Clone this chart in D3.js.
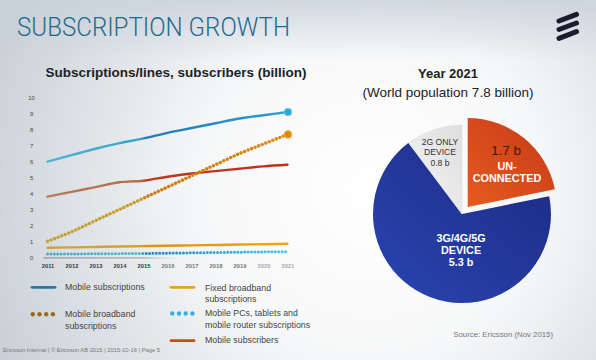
<!DOCTYPE html>
<html><head><meta charset="utf-8">
<script src="https://cdn.jsdelivr.net/npm/d3@7"></script>
<style>html,body{margin:0;padding:0;background:#fff;}svg{display:block;}</style>
</head><body>
<svg id="c" width="596" height="360"></svg>
<script>
// ---- data ----
const years = [2011,2012,2013,2014,2015,2016,2017,2018,2019,2020,2021];
const yTicks = [0,1,2,3,4,5,6,7,8,9,10];
const mobileSubs = [6.0,6.4,6.8,7.15,7.45,7.8,8.1,8.4,8.7,8.9,9.1];
const mobileBroadband = [1.0,1.6,2.3,3.0,3.7,4.4,5.1,5.8,6.5,7.1,7.7];
const mobileSubscribers = [3.8,4.1,4.4,4.7,4.8,5.05,5.25,5.4,5.55,5.7,5.8];
const fixedBroadband = [0.6,0.62,0.65,0.68,0.7,0.72,0.75,0.77,0.8,0.82,0.85];
const mobilePCs = [0.2,0.21,0.22,0.23,0.24,0.26,0.28,0.3,0.32,0.34,0.35];
const pieLabels = ["UN-CONNECTED","3G/4G/5G DEVICE","2G ONLY DEVICE"];
const pieValues = [1.7,5.3,0.8];

const svg = d3.select("#c");
const defs = svg.append("defs");
const font = "'Liberation Sans', Arial, sans-serif";

// background
const bg = defs.append("radialGradient").attr("id","bg").attr("gradientUnits","userSpaceOnUse")
  .attr("cx",370).attr("cy",190).attr("r",430);
bg.append("stop").attr("offset","0").attr("stop-color","#ffffff");
bg.append("stop").attr("offset","0.4").attr("stop-color","#f6f7f8");
bg.append("stop").attr("offset","1").attr("stop-color","#c3cbd2");
svg.append("rect").attr("width",596).attr("height",360).attr("fill","url(#bg)");
const tb = defs.append("linearGradient").attr("id","tb").attr("x1",0).attr("y1",0).attr("x2",0).attr("y2",1);
tb.append("stop").attr("offset","0").attr("stop-color","#c8d2da").attr("stop-opacity",0.8);
tb.append("stop").attr("offset","1").attr("stop-color","#c8d2da").attr("stop-opacity",0);
svg.append("rect").attr("width",596).attr("height",60).attr("fill","url(#tb)");

// title
svg.append("text").attr("x",17).attr("y",36).attr("font-family","Roboto, 'Open Sans', sans-serif")
  .attr("font-weight",300).attr("font-size",25).attr("fill","#1d6a90")
  .attr("textLength",273).attr("lengthAdjust","spacingAndGlyphs").text("SUBSCRIPTION GROWTH");

// logo
const logo = svg.append("g").attr("stroke","#1b1c2c").attr("stroke-width",5).attr("stroke-linecap","round");
[[21,14.3],[29.5,23],[38.3,31.7]].forEach(d=>{
  logo.append("line").attr("x1",559).attr("y1",d[0]).attr("x2",576.5).attr("y2",d[1]);
});

// subtitle
svg.append("text").attr("x",176).attr("y",77).attr("text-anchor","middle").attr("font-family",font)
  .attr("font-weight","bold").attr("font-size",13.5).attr("fill","#222").text("Subscriptions/lines, subscribers (billion)");

// scales
const x = d3.scaleLinear().domain([2011,2021]).range([47.5,287.5]);
const y = d3.scaleLinear().domain([0,10]).range([257.3,97.7]);

// axes
const yAxis = svg.append("g").attr("transform","translate(34,0)")
  .call(d3.axisLeft(y).tickValues(yTicks).tickSize(0).tickPadding(0));
yAxis.select(".domain").remove();
yAxis.selectAll("text").attr("font-family",font).attr("font-size",5.8).attr("fill","#444").attr("text-anchor","middle").attr("dx",-2.5);

const xAxis = svg.append("g").attr("transform","translate(0,264)")
  .call(d3.axisBottom(x).tickValues(years).tickFormat(d3.format("d")).tickSize(0).tickPadding(0));
xAxis.select(".domain").remove();
xAxis.selectAll("text").attr("font-family",font).attr("font-size",5.8).attr("font-weight","bold")
  .attr("fill",d=> d<=2015 ? "#3a3a3a" : (d<2020 ? "#777" : "#aaa"));

// base bar
const bb = defs.append("linearGradient").attr("id","bb").attr("gradientUnits","userSpaceOnUse")
  .attr("x1",x(2011)).attr("x2",x(2021)).attr("y1",0).attr("y2",0);
bb.append("stop").attr("offset","0").attr("stop-color","#a9adb2");
bb.append("stop").attr("offset","0.4").attr("stop-color","#b8bcc0");
bb.append("stop").attr("offset","0.55").attr("stop-color","#e8eaec").attr("stop-opacity",0.2);
bb.append("stop").attr("offset","1").attr("stop-color","#ffffff").attr("stop-opacity",0);
svg.append("line").attr("x1",x(2011)-4).attr("x2",x(2021)).attr("y1",y(0)+0.5).attr("y2",y(0)+0.5)
  .attr("stroke","url(#bb)").attr("stroke-width",1.8);

// gradients with change at 2015
function grad(id, c1, c2, c3){
  const g = defs.append("linearGradient").attr("id",id).attr("gradientUnits","userSpaceOnUse")
    .attr("x1",x(2011)).attr("x2",x(2021)).attr("y1",0).attr("y2",0);
  const f = (x(2015)-x(2011))/(x(2021)-x(2011));
  g.append("stop").attr("offset",0).attr("stop-color",c1[0]);
  g.append("stop").attr("offset",f-0.01).attr("stop-color",c1[1]);
  g.append("stop").attr("offset",f+0.01).attr("stop-color",c2);
  g.append("stop").attr("offset",1).attr("stop-color",c3);
}
grad("gMS", ["#4fb2cf","#3aa4cc"], "#1f7db5", "#2f9cd3");
grad("gMB", ["#c7a23a","#c99a30"], "#c97a12", "#e08a10");
grad("gSub", ["#b97a5c","#b36a4a"], "#bd3a20", "#c02e1c");
grad("gFB", ["#cfa33a","#d3a232"], "#e0900f", "#f0a818");
grad("gPC", ["#4aa8bf","#55b4c8"], "#1f87bd", "#45c6ef");

const line = d3.line().x((d,i)=>x(years[i])).y(d=>y(d)).curve(d3.curveMonotoneX);

function solid(data, id, w){
  svg.append("path").attr("d",line(data)).attr("fill","none").attr("stroke",`url(#${id})`)
    .attr("stroke-width",w).attr("stroke-linecap","round");
}
function dotted(data, id, w, gap){
  svg.append("path").attr("d",line(data)).attr("fill","none").attr("stroke",`url(#${id})`)
    .attr("stroke-width",w).attr("stroke-linecap","round").attr("stroke-dasharray",`0 ${gap}`);
}
solid(fixedBroadband, "gFB", 2.4);
dotted(mobilePCs, "gPC", 3.0, 3.4);
solid(mobileSubscribers, "gSub", 2.4);
dotted(mobileBroadband, "gMB", 3.6, 3.8);
solid(mobileSubs, "gMS", 2.4);

// end circles
svg.append("circle").attr("cx",x(2021)+0.5).attr("cy",y(mobileSubs[10])).attr("r",3.9)
  .attr("fill","#2ea7dc").attr("stroke","#8fd2ef").attr("stroke-width",0.8);
svg.append("circle").attr("cx",x(2021)+0.5).attr("cy",y(mobileBroadband[10])).attr("r",3.9)
  .attr("fill","#e08a10").attr("stroke","#f0b860").attr("stroke-width",0.8);

// legend
const lg = svg.append("g").attr("font-family",font).attr("font-size",8.8).attr("fill","#444");
function legLine(x1,yy,c){ lg.append("line").attr("x1",x1).attr("x2",x1+23).attr("y1",yy).attr("y2",yy)
  .attr("stroke",c).attr("stroke-width",2.8).attr("stroke-linecap","round"); }
function legDots(x1,yy,c){ for(let i=0;i<4;i++) lg.append("circle").attr("cx",x1+1.8+i*6.7).attr("cy",yy).attr("r",2.2).attr("fill",c); }
function legText(x1,yy,lines){ lines.forEach((t,i)=>lg.append("text").attr("x",x1).attr("y",yy+i*11.5).attr("dy","0.35em").text(t)); }
legLine(32,287.3,"#2a78a8"); legText(65,287.3,["Mobile subscriptions"]);
legDots(31,314.3,"#9a6a1a"); legText(65,314.3,["Mobile broadband","subscriptions"]);
legLine(171,287.3,"#e8a020"); legText(205,287.5,["Fixed broadband","subscriptions"]);
legDots(170.5,313.5,"#35b0e0"); legText(205,313.3,["Mobile PCs, tablets and","mobile router subscriptions"]);
legLine(171,340.7,"#d04a20"); legText(205,340,["Mobile subscribers"]);

// footer
svg.append("text").attr("x",3).attr("y",352).attr("font-family",font).attr("font-size",5.8).attr("fill","#777")
  .text("Ericsson Internal  |  © Ericsson AB 2015  |  2015-10-16  |  Page 5");

// pie
svg.append("text").attr("x",448).attr("y",78).attr("text-anchor","middle").attr("font-family",font)
  .attr("font-weight","bold").attr("font-size",13).attr("fill","#222").text("Year 2021");
svg.append("text").attr("x",448).attr("y",96.5).attr("text-anchor","middle").attr("font-family",font)
  .attr("font-size",13.5).attr("fill","#222").text("(World population 7.8 billion)");

const pg = [["pO","#e65a20","#c53a16"],["pB","#2a45b2","#1b2a82"],["pG","#f6f6f6","#dedede"]];
pg.forEach(p=>{
  const g = defs.append("linearGradient").attr("id",p[0]).attr("x1",0).attr("y1",1).attr("x2",1).attr("y2",0);
  g.append("stop").attr("offset",0).attr("stop-color",p[1]);
  g.append("stop").attr("offset",1).attr("stop-color",p[2]);
});
const cx = 462, cy = 214, R = 89;
const pie = d3.pie().sort(null).startAngle(0).endAngle(2*Math.PI)(pieValues);
const arc = d3.arc().innerRadius(0).outerRadius(R);
const explode = [9,0,0];
const pieG = svg.append("g").attr("transform",`translate(${cx},${cy})`);
pieG.selectAll("path").data(pie).join("path")
  .attr("transform",(d,i)=>{ const a=(d.startAngle+d.endAngle)/2; return `translate(${Math.sin(a)*explode[i]},${-Math.cos(a)*explode[i]})`; })
  .attr("d",arc).attr("fill",(d,i)=>`url(#${pg[i][0]})`)
  .attr("stroke",(d,i)=> i===2 ? "#e4e4e4" : "none").attr("stroke-width",0.6);

function ptxt(dx,dy,t,size,weight,fill){
  pieG.append("text").attr("x",dx).attr("y",dy).attr("dy","0.35em").attr("text-anchor","middle")
    .attr("font-family",font).attr("font-size",size).attr("font-weight",weight).attr("fill",fill).text(t);
}
ptxt(-22,-72.3,"2G ONLY",8.6,"normal","#333");
ptxt(-22,-61.7,"DEVICE",8.6,"normal","#333");
ptxt(-22,-51.3,"0.8 b",8.6,"normal","#333");
ptxt(44,-64,"1.7 b",13.5,"normal","#3b1c12");
ptxt(45,-47.3,"UN-",10.8,"bold","#fff");
ptxt(45,-35.7,"CONNECTED",10.8,"bold","#fff");
ptxt(-1,24.3,"3G/4G/5G",10.8,"bold","#fff");
ptxt(-1,36,"DEVICE",10.8,"bold","#fff");
ptxt(-1,48.3,"5.3 b",10.8,"bold","#fff");

svg.append("text").attr("x",553).attr("y",337).attr("text-anchor","end").attr("font-family",font)
  .attr("font-size",7.8).attr("fill","#777").text("Source: Ericsson (Nov 2015)");
</script>
</body></html>
